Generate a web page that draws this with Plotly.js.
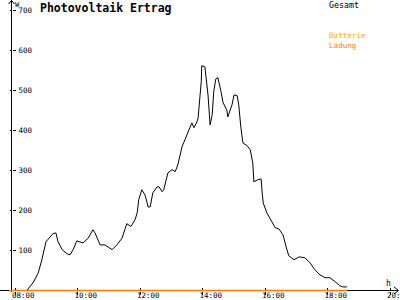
<!DOCTYPE html>
<html><head><meta charset="utf-8">
<script src="https://cdn.plot.ly/plotly-3.0.1.min.js"></script>
<style>html,body{margin:0;padding:0;background:#fff;}#chart{width:400px;height:300px;}</style>
</head><body><div id="chart"></div>
<script>
// Gesamt (total PV yield, W) over time of day
const gesamtTimes = ['07:48','08:22','08:34','08:44','08:51','08:59','09:07','09:12','09:18','09:22','09:30','09:39','09:45','09:51','09:58','10:10','10:20','10:29','10:33','10:43','10:52','11:06','11:15','11:25','11:34','11:42','11:50','11:54','11:57','12:03','12:09','12:15','12:19','12:24','12:32','12:36','12:42','12:45','12:53','13:01','13:07','13:12','13:20','13:26','13:32','13:39','13:43','13:49','13:51','13:57','13:58','14:04','14:10','14:14','14:18','14:21','14:25','14:29','14:35','14:39','14:46','14:48','14:56','15:00','15:06','15:09','15:13','15:17','15:25','15:31','15:36','15:38','15:46','15:52','15:54','15:56','16:03','16:11','16:19','16:26','16:34','16:40','16:45','16:55','17:05','17:16','17:26','17:35','17:45','17:55','18:04','18:14','18:23','18:29','18:37'];
const gesamtValues = [0,0,19,44,77,122,134,142,144,122,102,92,89,102,124,119,131,152,144,114,114,102,114,131,167,160,177,194,227,252,239,209,209,244,259,259,247,252,294,302,297,314,359,377,397,419,407,422,432,522,562,559,489,414,439,497,529,532,497,469,452,434,464,489,487,464,409,369,362,352,319,272,277,279,244,219,194,177,157,154,139,109,87,77,84,82,69,52,39,32,32,22,12,9,9];
// Batterie Ladung (battery charging, W)
const ladungTimes = ['07:48','12:00','18:37'];
const ladungValues = [0,0,0];
const xTickHours = [8,10,12,14,16,18,20];
const xTickLabels = ['08:00','10:00','12:00','14:00','16:00','18:00','20:00'];
const yTickValues = [100,200,300,400,500,600,700];

function toHours(s){const p=s.split(':').map(Number);return p[0]+p[1]/60;}
const W=400,H=300;
const px=x=>x/W, py=y=>1-y/H;
const FONT='DejaVu Sans Mono';

const traces=[
 {x:gesamtTimes.map(toHours),y:gesamtValues,type:'scatter',mode:'lines',name:'Gesamt',
  line:{color:'#000000',width:1},hoverinfo:'skip'},
 {x:ladungTimes.map(toHours),y:ladungValues,type:'scatter',mode:'lines',name:'Batterie Ladung',
  line:{color:'#FF8000',width:1.5},hoverinfo:'skip',cliponaxis:false}
];

const layout={
 width:W,height:H,margin:{l:0,r:0,t:0,b:0},
 paper_bgcolor:'#ffffff',plot_bgcolor:'#ffffff',showlegend:false,
 title:{text:'Photovoltaik Ertrag',font:{family:FONT,size:11.5,color:'#000',weight:'bold'},
   x:px(40),xanchor:'left',xref:'paper',y:py(8),yanchor:'middle',yref:'paper'},
 xaxis:{range:[7.5104,20.3104],anchor:'free',position:9.5/H,showgrid:false,zeroline:false,showline:false,
   tickmode:'array',tickvals:xTickHours,ticktext:xTickLabels,ticks:'outside',ticklen:3,tickwidth:1,tickcolor:'#000',
   tickfont:{family:FONT,size:7.5,color:'#000'},ticklabelshift:8,ticklabelstandoff:-6,ticklabeloverflow:'allow',
   minor:{ticks:'inside',ticklen:3,tickwidth:1,tickcolor:'#000',tickvals:xTickHours.map(v=>v+0.0001)},
   fixedrange:true,layer:'below traces'},
 yaxis:{range:[-23.75,726.25],anchor:'free',position:px(11.5),showgrid:false,zeroline:false,showline:false,
   tickmode:'array',tickvals:yTickValues,ticks:'outside',ticklen:2,tickwidth:1,tickcolor:'#000',
   ticklabelposition:'inside',tickfont:{family:FONT,size:7.5,color:'#000'},ticklabelstandoff:3,ticklabeloverflow:'allow',
   minor:{ticks:'inside',ticklen:3,tickwidth:1,tickcolor:'#000',tickvals:yTickValues.map(v=>v+0.01)},
   fixedrange:true,layer:'below traces'},
 shapes:[
  {type:'line',xref:'paper',yref:'y',x0:0,x1:px(398),y0:0,y1:0,line:{color:'#000',width:1},layer:'below'},
  {type:'line',xref:'paper',yref:'paper',x0:px(11.5),x1:px(11.5),y0:py(0),y1:py(292),line:{color:'#000',width:1},layer:'below'},
  {type:'path',xref:'paper',yref:'paper',path:`M ${px(394)} ${py(287)} L ${px(398.5)} ${py(290.5)} L ${px(394)} ${py(294)}`,line:{color:'#000',width:1}},
  {type:'path',xref:'paper',yref:'paper',path:`M ${px(8.5)} ${py(4)} L ${px(11.5)} ${py(0.5)} L ${px(14.5)} ${py(4)}`,line:{color:'#000',width:1}}
 ],
 annotations:[
  {text:'W',xref:'paper',yref:'paper',x:px(14),y:py(0),xanchor:'left',yanchor:'top',showarrow:false,borderpad:0,font:{family:FONT,size:7,color:'#000'}},
  {text:'h',xref:'paper',yref:'paper',x:px(385),y:py(278),xanchor:'left',yanchor:'top',showarrow:false,borderpad:0,font:{family:FONT,size:8,color:'#000'}},
  {text:'Gesamt',xref:'paper',yref:'paper',x:px(328),y:py(4.5),xanchor:'left',yanchor:'middle',showarrow:false,borderpad:0,font:{family:FONT,size:8.3,color:'#000'}},
  {text:'Batterie',xref:'paper',yref:'paper',x:px(328),y:py(40.5),xanchor:'left',yanchor:'bottom',showarrow:false,borderpad:0,font:{family:FONT,size:7.6,color:'#FFB000'}},
  {text:'Ladung',xref:'paper',yref:'paper',x:px(328),y:py(40),xanchor:'left',yanchor:'top',showarrow:false,borderpad:0,font:{family:FONT,size:7.6,color:'#FF8000'}}
 ]
};
Plotly.newPlot('chart',traces,layout,{staticPlot:true,displayModeBar:false});
</script></body></html>
